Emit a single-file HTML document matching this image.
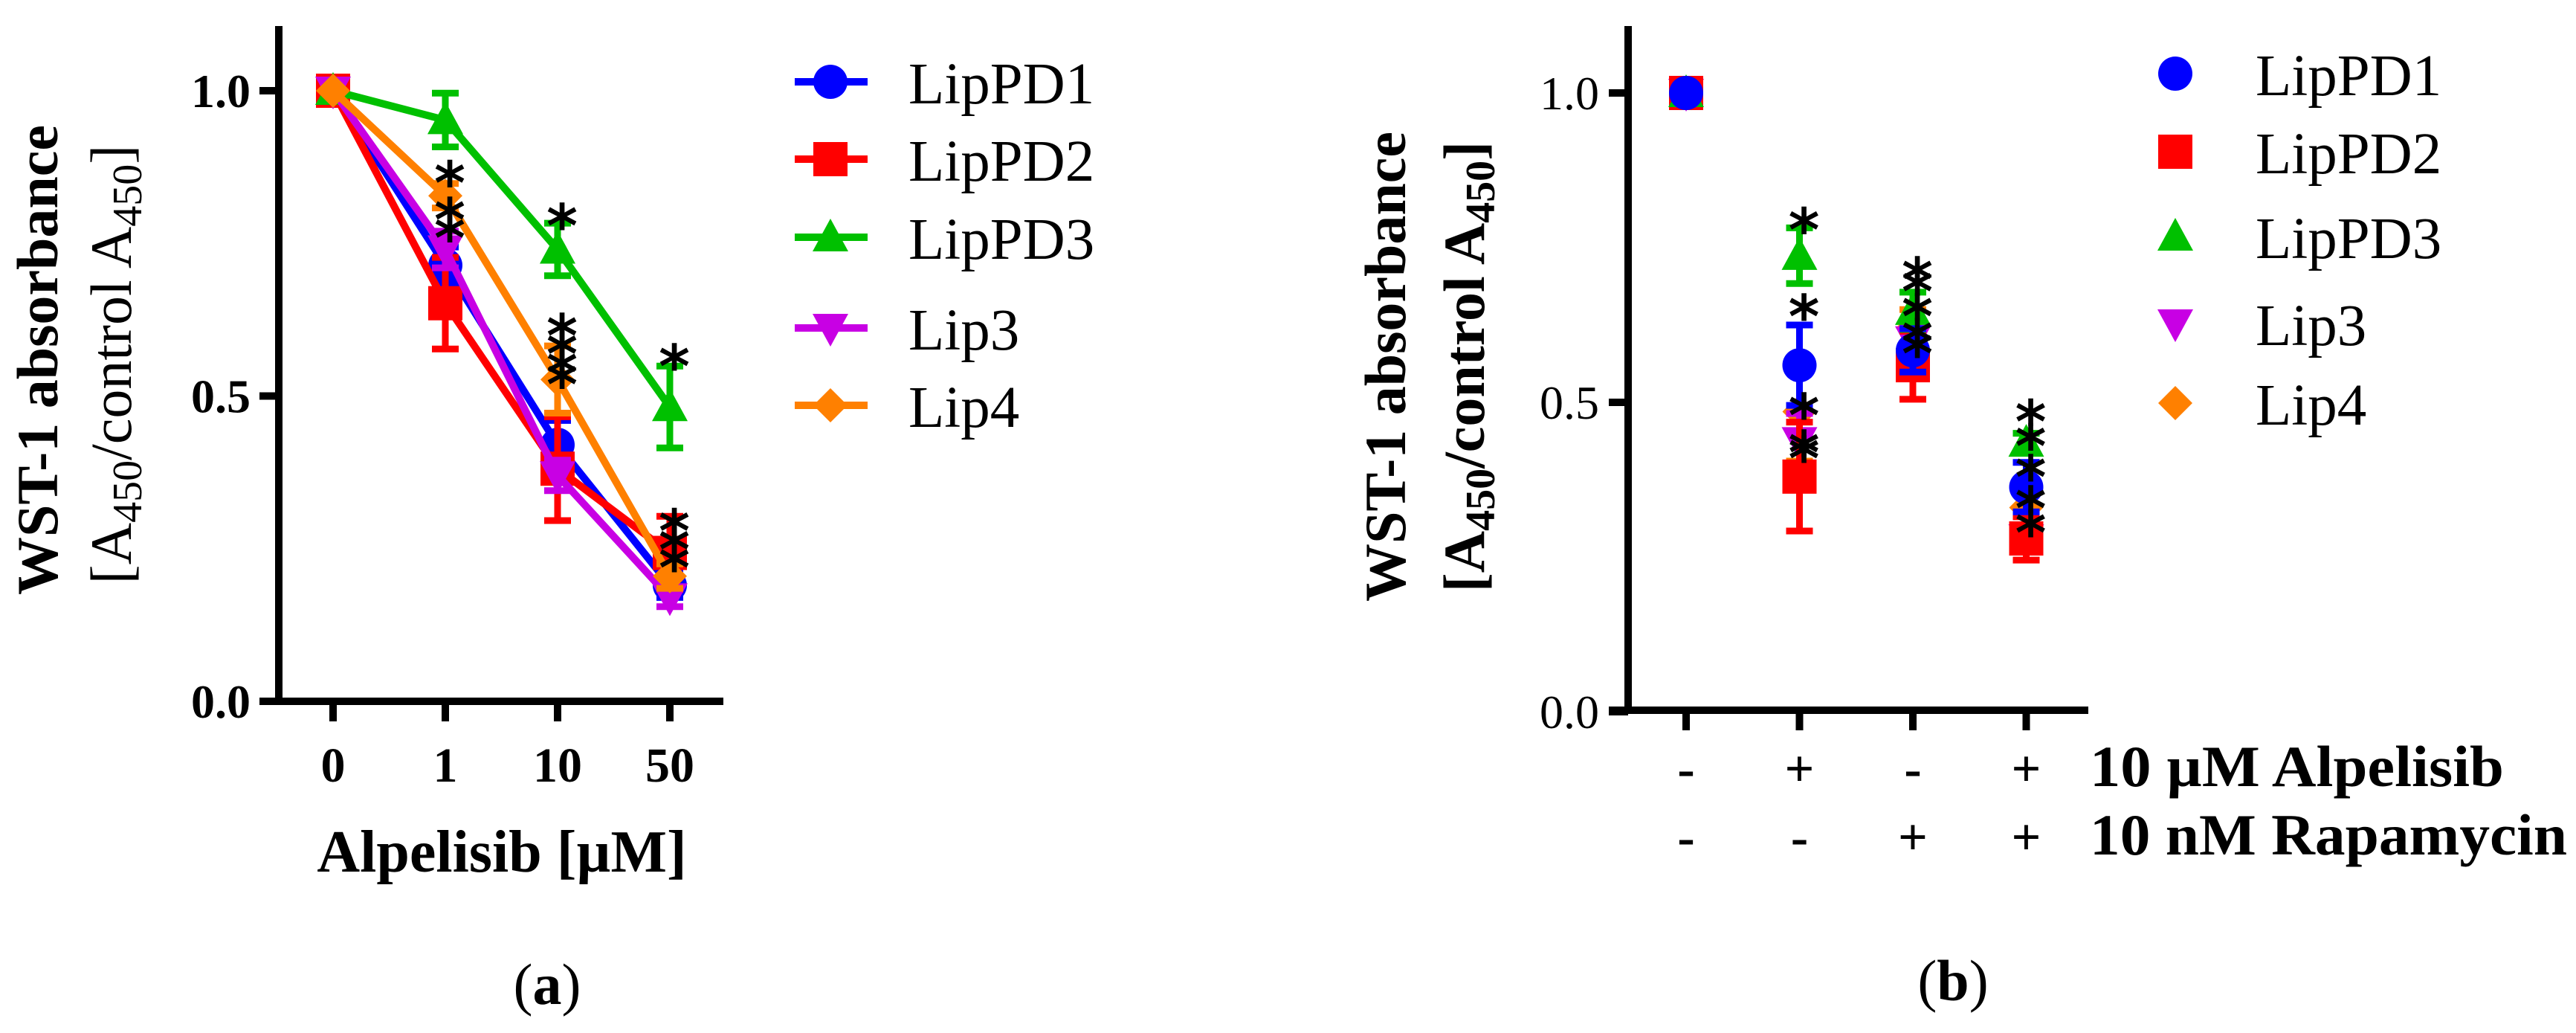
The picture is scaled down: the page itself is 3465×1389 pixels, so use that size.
<!DOCTYPE html>
<html><head><meta charset="utf-8"><style>
html,body{margin:0;padding:0;background:#fff;}
svg{display:block;font-family:"Liberation Serif","DejaVu Serif",serif;}
svg text{font-family:"Liberation Serif","DejaVu Serif",serif;fill:#000;}
svg text.star{font-family:"DejaVu Sans",sans-serif;}
</style></head><body>
<svg id="chart" width="3465" height="1389" viewBox="0 0 3465 1389" xmlns="http://www.w3.org/2000/svg" font-family="Liberation Serif, DejaVu Serif, serif">
<g id="panelA">
  <text transform="translate(77,484) rotate(-90)" text-anchor="middle" font-size="78" font-weight="bold">WST-1 absorbance</text>
  <text transform="translate(176,490) rotate(-90)" text-anchor="middle" font-size="78">[A<tspan font-size="56" dy="14">450</tspan><tspan dy="-14">/control A</tspan><tspan font-size="56" dy="14">450</tspan><tspan dy="-14">]</tspan></text>
  <text x="675" y="1172" text-anchor="middle" font-size="80" font-weight="bold">Alpelisib [µM]</text>
  <text x="736" y="1350" text-anchor="middle" font-size="78">(<tspan font-weight="bold">a</tspan>)</text>
</g>
<g id="panelB">
  <text transform="translate(1890,493) rotate(-90)" text-anchor="middle" font-size="78" font-weight="bold">WST-1 absorbance</text>
  <text transform="translate(1996,493) rotate(-90)" text-anchor="middle" font-size="78" font-weight="bold">[A<tspan font-size="56" dy="14">450</tspan><tspan dy="-14">/control A</tspan><tspan font-size="56" dy="14">450</tspan><tspan dy="-14">]</tspan></text>
  <text x="2811" y="1057" font-size="78" font-weight="bold" textLength="557" lengthAdjust="spacingAndGlyphs">10 µM Alpelisib</text>
  <text x="2811" y="1149" font-size="78" font-weight="bold" textLength="642" lengthAdjust="spacingAndGlyphs">10 nM Rapamycin</text>
  <text x="2627" y="1345" text-anchor="middle" font-size="78">(<tspan font-weight="bold">b</tspan>)</text>
</g>
</svg>
<script>
const seriesNames = ["LipPD1","LipPD2","LipPD3","Lip3","Lip4"];
const seriesColors = ["#0000FF","#FF0000","#00C000","#C800E4","#FF8000"];
const seriesShapes = ["circle","square","triangle","triangleDown","diamond"];
const categoriesA = ["0","1","10","50"];
const yTicks = [0.0,0.5,1.0];
const yTickLabels = ["0.0","0.5","1.0"];
const lipPD1A = [1,0.714,0.42,0.19];
const lipPD2A = [1,0.652,0.381,0.243];
const lipPD3A = [1,0.952,0.74,0.482];
const lip3A = [1,0.74,0.37,0.17];
const lip4A = [1,0.828,0.527,0.205];
const lipPD1AErr = [0,0.03,0.04,0.02];
const lipPD2AErr = [0,0.075,0.085,0.06];
const lipPD3AErr = [0,0.044,0.043,0.067];
const lip3AErr = [0,0.03,0.025,0.015];
const lip4AErr = [0,0.02,0.055,0.02];
const starCatA = [1,1,1,2,2,2,2,2,3,3,3,3];
const starValA = [0.87,0.81,0.78,0.80,0.62,0.59,0.56,0.54,0.57,0.30,0.27,0.24];
const alpelisibRow = ["-","+","-","+"];
const rapamycinRow = ["-","-","+","+"];
const lipPD1B = [1,0.56,0.584,0.363];
const lipPD2B = [1,0.38,0.56,0.28];
const lipPD3B = [1,0.737,0.648,0.435];
const lip3B = [1,0.437,0.6,0.28];
const lip4B = [1,0.485,0.62,0.33];
const lipPD1BErr = [0,0.065,0.035,0.04];
const lipPD2BErr = [0,0.088,0.055,0.035];
const lipPD3BErr = [0,0.045,0.03,0.015];
const lip3BErr = [0,0.045,0.02,0.02];
const lip4BErr = [0,0.08,0.03,0.03];
const starCatB = [1,1,1,1,1,2,2,2,2,2,3,3,3,3,3];
const starValB = [0.80,0.66,0.50,0.44,0.43,0.72,0.70,0.66,0.62,0.60,0.49,0.45,0.40,0.35,0.31];

const NS = "http://www.w3.org/2000/svg";
const svg = document.getElementById("chart");
const gA = document.getElementById("panelA");
const gB = document.getElementById("panelB");
function el(tag, attrs, parent){const e=document.createElementNS(NS,tag);for(const k in attrs)e.setAttribute(k,attrs[k]);parent.appendChild(e);return e;}

const xA = i => 448 + i*151;
const yA = v => 943 - 821*v;
const xB = i => 2268 + i*152.5;
const yB = v => 957 - 832*v;

function marker(shape, cx, cy, color, parent){
  const s=23; let e;
  if(shape==="circle") e=el("circle",{cx:cx,cy:cy,r:s,fill:color},parent);
  else if(shape==="square") e=el("rect",{x:cx-s,y:cy-s,width:2*s,height:2*s,fill:color},parent);
  else if(shape==="triangle") e=el("polygon",{points:`${cx},${cy-s-2} ${cx+s+1},${cy+s-4} ${cx-s-1},${cy+s-4}`,fill:color},parent);
  else if(shape==="triangleDown") e=el("polygon",{points:`${cx},${cy+s+2} ${cx+s+1},${cy-s+4} ${cx-s-1},${cy-s+4}`,fill:color},parent);
  else e=el("polygon",{points:`${cx},${cy-s} ${cx+s},${cy} ${cx},${cy+s} ${cx-s},${cy}`,fill:color},parent);
  return e;
}
function errBar(cx, v, err, yf, color, parent){
  if(err<=0) return;
  const g=el("g",{},parent);
  
  
  el("line",{x1:cx,x2:cx,y1:yf(v+err),y2:yf(v-err),stroke:color,"stroke-width":9},g);
  el("line",{x1:cx-18,x2:cx+18,y1:yf(v+err),y2:yf(v+err),stroke:color,"stroke-width":9},g);
  el("line",{x1:cx-18,x2:cx+18,y1:yf(v-err),y2:yf(v-err),stroke:color,"stroke-width":9},g);
}
function star(cx, cy, parent){
  const t=el("text",{x:cx,y:cy+46,"text-anchor":"middle","font-size":80,"font-weight":"bold","class":"star","font-family":"DejaVu Sans, sans-serif"},parent);
  t.textContent="*";
  
  
}
function axes(parent, xf, yf, x0, x1, labelBold, labelRight, yZero){
  const ax=el("line",{x1:x0,x2:x0,y1:35,y2:yZero+5,stroke:"#000","stroke-width":10},parent);
  
  
  const bx=el("line",{x1:x0-26,x2:x1,y1:yZero,y2:yZero,stroke:"#000","stroke-width":10},parent);
  
  
  yTicks.forEach((v,i)=>{
    const tk=el("line",{x1:x0-26,x2:x0,y1:yf(v),y2:yf(v),stroke:"#000","stroke-width":10},parent);
    
    
    const t=el("text",{x:labelRight,y:yf(v)+22,"text-anchor":"end","font-size":64,"font-weight":labelBold?"bold":"normal"},parent);
    t.textContent=yTickLabels[i];
    
    
  });
  for(let i=0;i<4;i++){
    const tk=el("line",{x1:xf(i),x2:xf(i),y1:yZero,y2:yZero+27,stroke:"#000","stroke-width":10},parent);
    
    
  }
}

// Panel A
axes(gA, xA, yA, 375, 973, true, 337, 943);
categoriesA.forEach((c,i)=>{
  const t=el("text",{x:xA(i),y:1051,"text-anchor":"middle","font-size":66,"font-weight":"bold"},gA);
  t.textContent=c;
  
  
});
const dataA=[lipPD1A,lipPD2A,lipPD3A,lip3A,lip4A];
const errA=[lipPD1AErr,lipPD2AErr,lipPD3AErr,lip3AErr,lip4AErr];
dataA.forEach((vals,s)=>{
  const g=el("g",{},gA);
  
  
  const pl=el("polyline",{points:vals.map((v,i)=>xA(i)+","+yA(v)).join(" "),fill:"none",stroke:seriesColors[s],"stroke-width":10,"stroke-linejoin":"round"},g);
  
  
  vals.forEach((v,i)=>{
    errBar(xA(i),v,errA[s][i],yA,seriesColors[s],g);
    const m=marker(seriesShapes[s],xA(i),yA(v),seriesColors[s],g);
    
    
  });
});
starCatA.forEach((c,i)=>star(xA(c)+6,yA(starValA[i]),gA));

// Legend A
seriesNames.forEach((n,s)=>{
  const cy=[110,214,319,441,545][s];
  const g=el("g",{},gA);
  
  
  el("line",{x1:1069,x2:1167,y1:cy,y2:cy,stroke:seriesColors[s],"stroke-width":10},g);
  marker(seriesShapes[s],1117,cy,seriesColors[s],g);
  const t=el("text",{x:1222,y:cy+29,"font-size":79},g);
  t.textContent=n;
});

// Panel B
axes(gB, xB, yB, 2190, 2809, false, 2151, 955);
alpelisibRow.forEach((c,i)=>{
  const t=el("text",{x:xB(i),y:1057,"text-anchor":"middle","font-size":70,"font-weight":"bold"},gB);
  t.textContent=c;
  
  
});
rapamycinRow.forEach((c,i)=>{
  const t=el("text",{x:xB(i),y:1149,"text-anchor":"middle","font-size":70,"font-weight":"bold"},gB);
  t.textContent=c;
  
  
});
const dataB=[lipPD1B,lipPD2B,lipPD3B,lip3B,lip4B];
const errB=[lipPD1BErr,lipPD2BErr,lipPD3BErr,lip3BErr,lip4BErr];
[4,3,1,2,0].forEach(s=>{
  const g=el("g",{},gB);
  
  
  dataB[s].forEach((v,i)=>{
    errBar(xB(i),v,errB[s][i],yB,seriesColors[s],g);
    const m=marker(seriesShapes[s],xB(i),yB(v),seriesColors[s],g);
    
    
  });
});
starCatB.forEach((c,i)=>star(xB(c)+6,yB(starValB[i]),gB));

// Legend B
seriesNames.forEach((n,s)=>{
  const cy=[99,204,318,435,542][s];
  const g=el("g",{},gB);
  
  
  marker(seriesShapes[s],2926,cy,seriesColors[s],g);
  const t=el("text",{x:3034,y:cy+29,"font-size":79},g);
  t.textContent=n;
});
</script>
</body></html>
